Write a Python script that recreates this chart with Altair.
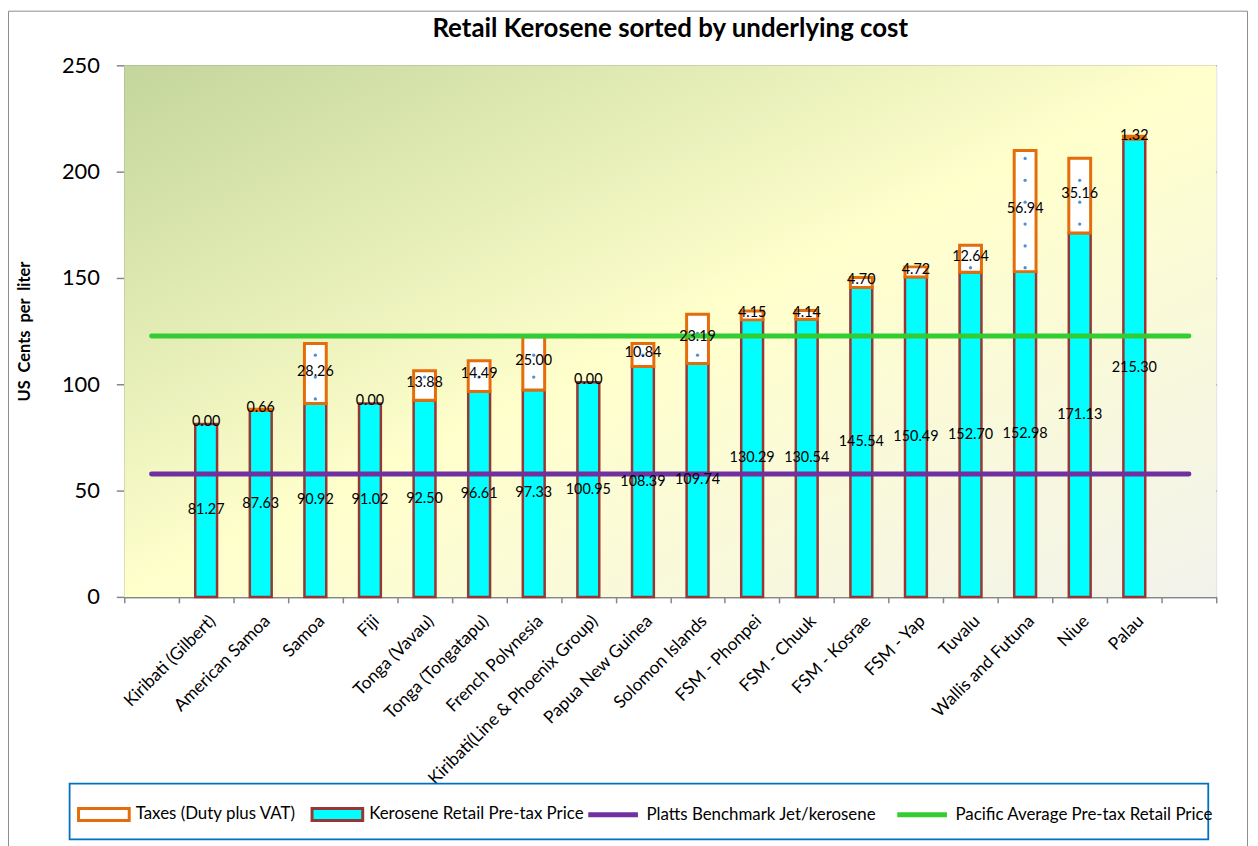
import math
import altair as alt
import pandas as pd

# ---------------- data ----------------
categories = [
    "Kiribati (Gilbert)", "American Samoa", "Samoa", "Fiji", "Tonga (Vavau)",
    "Tonga (Tongatapu)", "French Polynesia", "Kiribati(Line & Phoenix Group)",
    "Papua New Guinea", "Solomon Islands", "FSM - Phonpei", "FSM - Chuuk",
    "FSM - Kosrae", "FSM - Yap", "Tuvalu", "Wallis and Futuna", "Niue", "Palau",
]
pretax = [81.27, 87.63, 90.92, 91.02, 92.50, 96.61, 97.33, 100.95, 108.39,
          109.74, 130.29, 130.54, 145.54, 150.49, 152.70, 152.98, 171.13, 215.30]
taxes = [0.00, 0.66, 28.26, 0.00, 13.88, 14.49, 25.00, 0.00, 10.84,
         23.19, 4.15, 4.14, 4.70, 4.72, 12.64, 56.94, 35.16, 1.32]
platts_benchmark = 57.8
pacific_average = 122.7
y_ticks = [0, 50, 100, 150, 200, 250]

bar_series = ["Taxes (Duty plus VAT)", "Kerosene Retail Pre-tax Price"]
line_series = ["Platts Benchmark Jet/kerosene", "Pacific Average Pre-tax Retail Price"]

# empty category slots at both ends (as in the original category axis)
slots = [" "] + categories + ["  "]

bars_df = pd.DataFrame({"country": categories, "pretax": pretax, "tax": taxes})
lines_df = pd.DataFrame({
    "country": slots + slots,
    "series": [line_series[0]] * len(slots) + [line_series[1]] * len(slots),
    "value": [platts_benchmark] * len(slots) + [pacific_average] * len(slots),
})

# dotted fill pattern of the tax segments (a regular lattice clipped to each segment)
PATTERN_STEP, PATTERN_PHASE = 10.28, 0.6
dot_rows = []
for c, p, t in zip(categories, pretax, taxes):
    k = math.ceil((p + 1.8 - PATTERN_PHASE) / PATTERN_STEP)
    while PATTERN_PHASE + k * PATTERN_STEP < p + t - 1.8:
        dot_rows.append({"country": c, "v": PATTERN_PHASE + k * PATTERN_STEP})
        k += 1
dots_df = pd.DataFrame(dot_rows)

# ---------------- layout / style ----------------
W, H = 1099, 535
FONT = "Lato"
GRID = "#878787"
Y_TITLE = "US\u00a0 Cents\u00a0 per\u00a0 liter"

x_scale = alt.Scale(domain=slots, paddingInner=0, paddingOuter=0)
y_scale = alt.Scale(domain=[0, 250], nice=False, zero=True)

x_axis = alt.Axis(
    title=None, tickBand="extent", labelAngle=-45, labelAlign="right",
    labelBaseline="top", labelFont=FONT, labelFontSize=17.5, labelColor="black",
    labelPadding=9, tickSize=6, tickColor=GRID, tickWidth=1.5,
    domainColor=GRID, domainWidth=1.5, grid=False, labelOverlap=False,
    labelLimit=500,
)
y_axis = alt.Axis(
    values=y_ticks, title=Y_TITLE, titleFont=FONT,
    titleFontSize=16.5, titleFontWeight="bold", titleColor="black",
    titlePadding=29, labelFont=FONT, labelFontSize=22, labelColor="black",
    labelPadding=17, tickSize=8, tickColor=GRID, tickWidth=1.5,
    domainColor=GRID, domainWidth=1.5, grid=True, gridColor=GRID,
    gridWidth=1.5,
)

X = alt.X("country:N", scale=x_scale, axis=x_axis, title=None)

def Y(field):
    return alt.Y(field, scale=y_scale, axis=y_axis, stack=None, title=Y_TITLE)

fill_scale = alt.Scale(domain=bar_series, range=["#FFFFFF", "#00FFFF"])
stroke_scale = alt.Scale(domain=bar_series, range=["#E46C0A", "#953735"])
color_scale = alt.Scale(domain=line_series, range=["#7030A0", "#33CC33"])

bar_legend = alt.Legend(
    title=None, orient="none", legendX=-47.5, legendY=727, direction="horizontal",
    symbolType="M-1,-0.235H1V0.235H-1Z", symbolSize=2601, symbolStrokeWidth=3,
    labelFont=FONT, labelFontSize=17, labelColor="black", labelOffset=5,
    columnPadding=9, padding=0, labelLimit=500,
)
line_legend = alt.Legend(
    title=None, orient="none", legendX=464.5, legendY=726.5, direction="horizontal",
    symbolType="M-1,0H1", symbolSize=2500, symbolStrokeWidth=5,
    labelFont=FONT, labelFontSize=17, labelColor="black", labelOffset=6,
    columnPadding=10, padding=0, labelLimit=500,
)

gradient = alt.LinearGradient(
    gradient="linear", x1=0, y1=0, x2=1, y2=1,
    stops=[
        alt.GradientStop(color="#C3D69B", offset=0),
        alt.GradientStop(color="#FFFFCC", offset=0.5),
        alt.GradientStop(color="#F2F2EC", offset=1),
    ],
)

one = pd.DataFrame({"k": [0]})

background = alt.Chart(one).mark_rect(fill=gradient).encode(
    x=alt.value(0), x2=alt.value(W), y=alt.value(0), y2=alt.value(H)
)

BAR_W = alt.RelativeBandSize(0.4)

pre_bars = alt.Chart(bars_df).transform_calculate(
    s="'Kerosene Retail Pre-tax Price'"
).mark_bar(strokeWidth=2.5, width=BAR_W).encode(
    x=X,
    y=Y("pretax:Q"),
    fill=alt.Fill("s:N", scale=fill_scale, legend=bar_legend),
    stroke=alt.Stroke("s:N", scale=stroke_scale, legend=bar_legend),
)

tax_bars = alt.Chart(bars_df).transform_filter("datum.tax > 0").transform_calculate(
    top="datum.pretax + datum.tax", s="'Taxes (Duty plus VAT)'"
).mark_bar(strokeWidth=3, width=BAR_W).encode(
    x=X,
    y=Y("pretax:Q"),
    y2="top:Q",
    fill=alt.Fill("s:N", scale=fill_scale, legend=bar_legend),
    stroke=alt.Stroke("s:N", scale=stroke_scale, legend=bar_legend),
)

tax_dots = alt.Chart(dots_df).mark_circle(size=11, color="#4F8FD0", opacity=1).encode(
    x=X, y=Y("v:Q")
)

ref_lines = alt.Chart(lines_df).mark_line(strokeWidth=5, strokeCap="round").encode(
    x=X,
    y=Y("value:Q"),
    color=alt.Color("series:N", scale=color_scale, legend=line_legend),
)

pre_text = alt.Chart(bars_df).transform_calculate(
    mid="datum.pretax / 2"
).mark_text(font=FONT, fontSize=14.5, color="black").encode(
    x=X, y=Y("mid:Q"), text=alt.Text("pretax:Q", format=".2f"),
)

tax_text = alt.Chart(bars_df).transform_calculate(
    mid="datum.pretax + datum.tax / 2"
).mark_text(font=FONT, fontSize=14.5, color="black", dy=-2).encode(
    x=X, y=Y("mid:Q"), text=alt.Text("tax:Q", format=".2f"),
)

outer_border = alt.Chart(one).mark_rect(
    fill="transparent", stroke="#8C8C8C", strokeWidth=1
).encode(x=alt.value(-116.5), x2=alt.value(1130.5), y=alt.value(-54.5), y2=alt.value(820))

legend_box = alt.Chart(one).mark_rect(
    fill="transparent", stroke="#0070C0", strokeWidth=1.8
).encode(x=alt.value(-55), x2=alt.value(1091), y=alt.value(723), y2=alt.value(779))

chart = alt.layer(
    background, pre_bars, tax_bars, tax_dots, ref_lines, pre_text, tax_text,
    outer_border, legend_box
).properties(
    width=W,
    height=H,
    autosize=alt.AutoSizeParams(type="none"),
    padding={"left": 117, "top": 55, "right": 34, "bottom": 248},
    title=alt.TitleParams(
        text="Retail Kerosene sorted by underlying cost", font=FONT, fontSize=26,
        fontWeight="bold", color="black", anchor="middle", baseline="alphabetic",
        offset=-52.5,
    ),
).configure_view(
    stroke=GRID, strokeWidth=1.5
).configure(background="white")

chart.save("out.html", embed_options={"renderer": "svg", "actions": False})
